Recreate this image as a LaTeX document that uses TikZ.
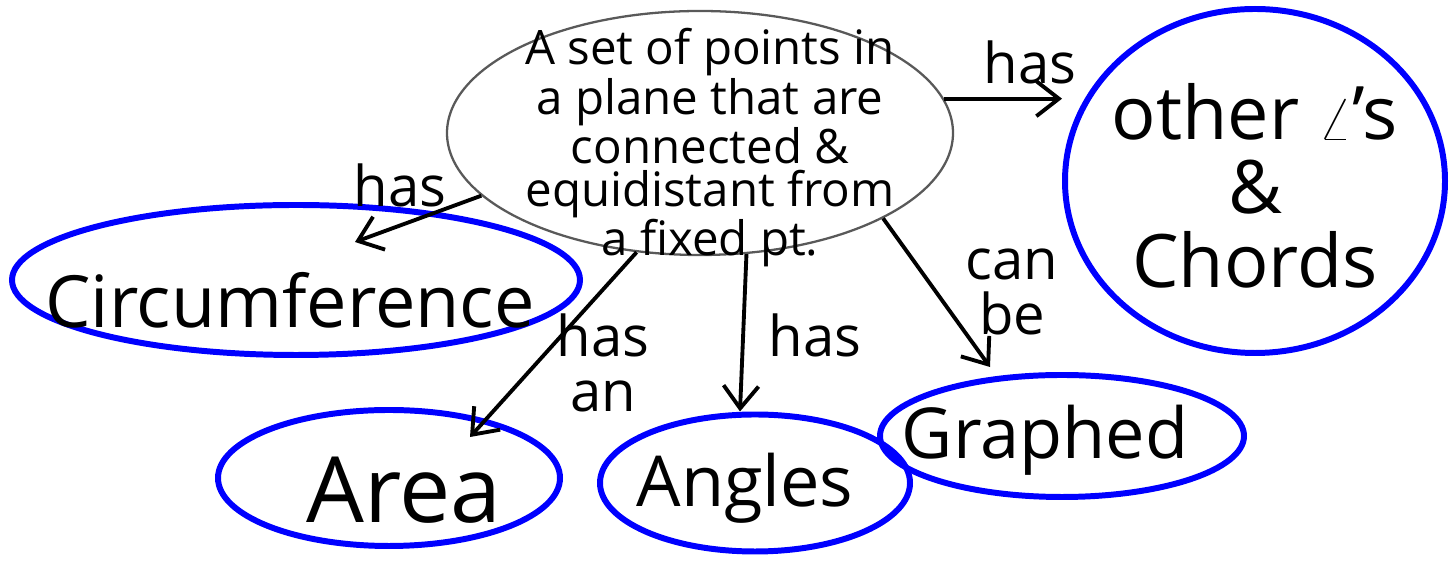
\documentclass[tikz,border=0pt]{standalone}
\usepackage{fontspec}
\setmainfont{Open Sans}
\usetikzlibrary{shapes.geometric,arrows.meta,calc}

\tikzset{
  idea/.style={ellipse,draw=black!65,line width=1.3pt,inner sep=0pt},
  blob/.style={ellipse,draw=blue,line width=3.4pt,inner sep=0pt},
  arr/.style={-{Straight Barb[length=4.5mm,width=7mm]},line width=2.2pt},
  word/.style={font=\fontsize{44}{44}\selectfont,align=center},
  verb/.style={font=\fontsize{32}{31}\selectfont,align=center},
}

\begin{document}
\begin{tikzpicture}
  \useasboundingbox (0,0) rectangle (28.98,11.44);
  \node[idea,minimum width=10.12cm,minimum height=4.88cm,
    label={[font=\fontsize{27}{24.5}\selectfont,align=center,xshift=0.2cm,yshift=-0.3cm]center:A set of points in\\a plane that are\\connected \&\\equidistant from\\a fixed pt.}] (set) at (14,8.78) {};
  \node[blob,minimum width=11.36cm,minimum height=3cm,
    label={[word,font=\fontsize{41}{41}\selectfont,xshift=-0.12cm,yshift=-0.4cm]center:Circumference}] (circ) at (5.92,5.84) {};
  \node[blob,minimum width=6.84cm,minimum height=2.72cm,
    label={[word,font=\fontsize{52}{52}\selectfont,xshift=0.3cm,yshift=-0.25cm]center:Area}] (area) at (7.78,1.88) {};
  \node[blob,minimum width=6.2cm,minimum height=2.74cm,
    label={[word,font=\fontsize{40}{40}\selectfont,xshift=-0.2cm,yshift=-0.1cm]center:Angles}] (angles) at (15.1,1.78) {};
  \node[blob,minimum width=7.28cm,minimum height=2.44cm,
    label={[word,font=\fontsize{40}{40}\selectfont,xshift=-0.34cm,yshift=-0.08cm]center:Graphed}] (graphed) at (21.24,2.72) {};
  \node[blob,minimum width=7.6cm,minimum height=6.88cm,
    label={[word,font=\fontsize{42}{42}\selectfont,yshift=-0.1cm]center:other $\angle$'s\\\&\\Chords}] (other) at (25.1,7.82) {};

  \node[verb] (hasother) at (20.6,10.2) {has};
  \node[verb] (hascirc) at (8.0,7.74) {has};
  \node[verb] (hasarea) at (12.06,4.18) {has\\an};
  \node[verb] (hasangles) at (16.3,4.74) {has};
  \node[verb] (canbe) at (20.24,5.6) {can\\be};

  \draw[arr] (set.8) -- (set.8 -| other.west);
  \draw[arr] (set.196) -- ($(circ.north)+(1.18,-0.8)$);
  \draw[arr] (set.242) -- ($(area.north)+(1.62,-0.6)$);
  \draw[arr] (set.291) -- ($(angles.north)+(-0.3,0)$);
  \draw[arr] (set.335) -- ($(graphed.north)+(-1.44,0.1)$);
\end{tikzpicture}
\end{document}
